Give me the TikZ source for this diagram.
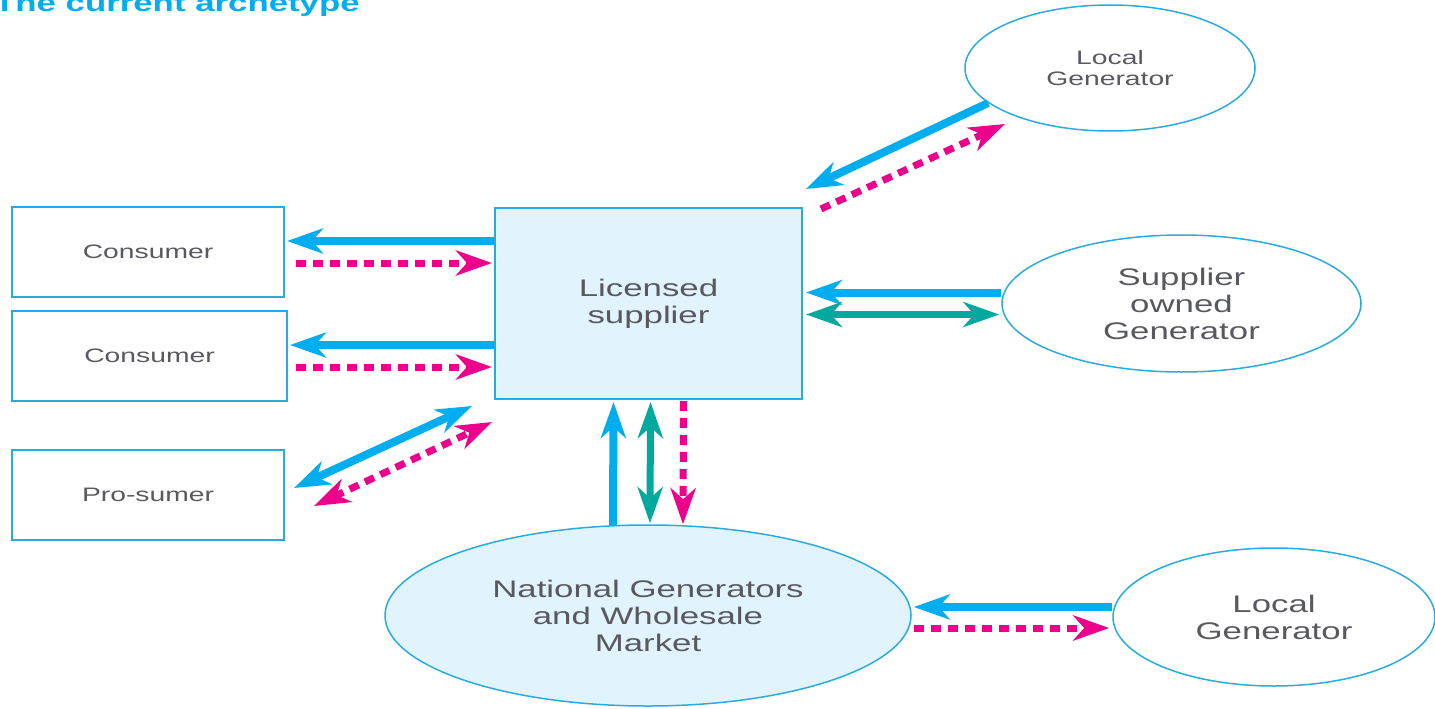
\documentclass[tikz,border=0pt]{standalone}
\usepackage{fontspec}
\setmainfont{Liberation Sans}[FakeStretch=1.45]
\usetikzlibrary{arrows.meta,calc,shapes.geometric}
\definecolor{flowblue}{RGB}{0,174,239}
\definecolor{flowpink}{RGB}{236,0,140}
\definecolor{flowteal}{RGB}{0,169,157}
\definecolor{edgeblue}{RGB}{41,171,226}
\definecolor{paleblue}{RGB}{225,243,252}
\definecolor{txtgray}{RGB}{88,89,95}
\newcommand{\smalltxt}{\fontsize{19.5}{21}\selectfont}
\newcommand{\bigtxt}{\fontsize{24}{27}\selectfont}
\newcommand{\titletxt}{\fontsize{24}{27}\selectfont\bfseries}
\tikzset{
  box/.style={draw=edgeblue, line width=2pt, minimum width=272pt, minimum height=90pt,
    inner sep=0pt, align=center, text=txtgray, font=\smalltxt},
  gen/.style={ellipse, draw=edgeblue, line width=1.5pt, inner sep=0pt, align=center,
    text=txtgray, font=\bigtxt},
  power/.style={draw=flowblue, line width=8pt},
  money/.style={draw=flowpink, line width=7pt, dash pattern=on 10pt off 7pt},
  data/.style={draw=flowteal, line width=7pt},
  >={Stealth[length=36pt,width=25pt,inset=11pt]}
}

\begin{document}
\begin{tikzpicture}[x=1pt, y=-1pt]
  \useasboundingbox (0,0) rectangle (1435,709);

  \node[anchor=base west, inner sep=0pt, text=flowblue, font=\titletxt] (title) at (-6,12) {The current archetype};

  \node[box] (con1) at (148,252) {Consumer};
  \node[box, minimum width=275pt] (con2) at (149.5,356) {Consumer};
  \node[box] (pro) at (148,495) {Pro-sumer};
  \node[box, fill=paleblue, minimum width=307pt, minimum height=191pt, font=\bigtxt] (sup) at (648.5,303.5) {Licensed\\supplier};

  \node[gen, minimum width=290pt, minimum height=126pt, font=\smalltxt] (lg1) at (1110,68) {Local\\Generator};
  \node[gen, minimum width=359pt, minimum height=137pt] (sog) at (1181.5,303.5) {Supplier\\owned\\Generator};
  \node[gen, fill=paleblue, minimum width=526pt, minimum height=181pt] (ngw) at (648,615.5) {National Generators\\and Wholesale\\Market};
  \node[gen, minimum width=322pt, minimum height=138pt] (lg2) at (1274,617) {Local\\Generator};

  % consumers
  \draw[power, ->] ($(sup.west|-con1.east)+(0,-11)$) -- ($(con1.east)+(2,-11)$);
  \draw[money, ->] ($(con1.east)+(11,11)$) -- ($(sup.west|-con1.east)+(-2,11)$);
  \draw[power, ->] ($(sup.west|-con2.east)+(0,-11)$) -- ($(con2.east)+(2,-11)$);
  \draw[money, ->] ($(con2.east)+(8,11)$) -- ($(sup.west|-con2.east)+(-2,11)$);
  \draw[power, <->] ($(pro.east)+(9,-7)$) -- ($(sup.south west)+(-22,6)$);
  \draw[money, <->] ($(pro.east)+(29,11)$) -- ($(sup.south west)+(-2,22)$);

  % generators
  \draw[power, ->] (lg1.196) -- ($(sup.north east)+(3,-18)$);
  \draw[money, ->] ($(sup.north east)+(18,2)$) -- ($(lg1.center)+(-105,56)$);
  \draw[power, ->] ($(sog.west)+(0,-11)$) -- ($(sup.east|-sog.west)+(3,-11)$);
  \draw[data, <->] ($(sup.east|-sog.west)+(3,11)$) -- ($(sog.west)+(-2,11)$);

  % wholesale market
  \draw[power, ->] ($(ngw.north)+(-35,1)$) -- ($(sup.south)+(-35,2)$);
  \draw[data, <->] ($(sup.south)+(2,2)$) -- ($(ngw.north)+(2,-1)$);
  \draw[money, ->] ($(sup.south)+(35,1)$) -- ($(ngw.north)+(35,0)$);
  \draw[power, ->] ($(lg2.west)+(0,-10)$) -- ($(ngw.east|-lg2.west)+(2,-10)$);
  \draw[money, ->] ($(ngw.east|-lg2.west)+(2,11)$) -- ($(lg2.west)+(-3,11)$);
\end{tikzpicture}
\end{document}
